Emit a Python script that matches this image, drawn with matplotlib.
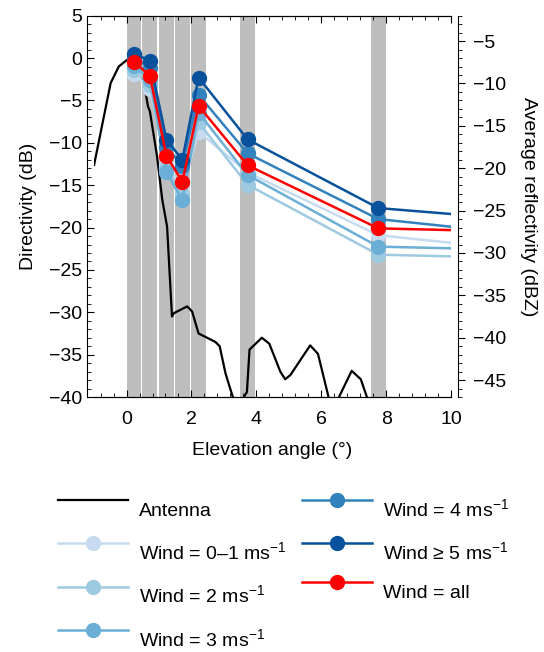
import matplotlib
matplotlib.use("Agg")
import matplotlib.pyplot as plt
from matplotlib.ticker import MultipleLocator

plt.rcParams['font.family'] = ['Liberation Sans', 'DejaVu Sans']
plt.rcParams['mathtext.fontset'] = 'custom'
plt.rcParams['mathtext.rm'] = 'Liberation Sans'
plt.rcParams['mathtext.it'] = 'Liberation Sans:italic'
plt.rcParams['font.size'] = 14

# Antenna directivity pattern (dB)
ant_x = [-1.0, -0.49, -0.24, 0.02, 0.2, 0.41, 0.53, 0.58, 0.66, 0.72, 0.94,
         1.1, 1.25, 1.4, 1.46, 1.87, 2.02, 2.22, 2.43, 2.74, 2.87, 3.05, 3.3,
         3.42, 3.57, 3.71, 3.79, 4.17, 4.4, 4.74, 4.89, 5.05, 5.66, 5.9, 6.22,
         6.37, 6.56, 6.94, 7.22, 7.4, 7.57, 8.0, 9.0, 10.0]
ant_db = [-12.6, -2.95, -1.0, -0.2, 0.0, -2.35, -2.8, -3.9, -5.7, -6.3, -11.6,
          -16.7, -19.9, -30.5, -30.1, -29.3, -29.9, -32.5, -32.9, -33.5, -34.0,
          -37.2, -40.3, -42.0, -40.3, -39.4, -34.4, -33.0, -33.7, -37.0, -37.9,
          -37.4, -33.9, -34.9, -39.9, -41.5, -39.9, -36.9, -37.9, -39.9, -42.7,
          -45.0, -46.0, -47.0]

# Elevation angles of the scans (last value = extension to 10 deg)
elev = [0.23, 0.72, 1.23, 1.72, 2.22, 3.73, 7.76, 10.0]

# Average reflectivity (dBZ) per wind class
refl_w01 = [-8.85, -10.6, -19.6, -22.3, -15.7, -20.5, -27.9, -28.8]
refl_w2 = [-8.4, -10.15, -19.95, -23.1, -14.6, -21.95, -30.2, -30.4]
refl_w3 = [-7.9, -9.55, -20.4, -23.8, -13.45, -20.8, -29.25, -29.45]
refl_w4 = [-6.95, -8.15, -17.5, -19.7, -11.35, -18.25, -26.0, -26.9]
refl_w5 = [-6.5, -7.3, -16.65, -19.0, -9.3, -16.6, -24.7, -25.4]
refl_all = [-7.45, -9.1, -18.55, -21.6, -12.65, -19.65, -27.1, -27.3]

band_centres = [0.23, 0.72, 1.23, 1.72, 2.22, 3.73, 7.76]

fig = plt.figure(figsize=(5.44, 6.52), dpi=100)
ax = fig.add_axes([0.173, 0.391, 0.656, 0.585])

for c in band_centres:
    ax.axvspan(c - 0.23, c + 0.23, color='#bebebe', lw=0, zorder=0)

ax.plot(ant_x, ant_db, color='black', lw=1.6, zorder=2, label='Antenna')
ax.set_xlim(-1, 10)
ax.set_ylim(-40, 5)
ax.xaxis.set_major_locator(MultipleLocator(2))
ax.xaxis.set_minor_locator(MultipleLocator(0.4))
ax.yaxis.set_major_locator(MultipleLocator(5))
ax.yaxis.set_minor_locator(MultipleLocator(1))
ax.tick_params(axis='x', which='both', direction='in', top=True, pad=10)
ax.tick_params(axis='y', which='both', direction='in', right=False)
ax.tick_params(which='major', length=5)
ax.tick_params(which='minor', length=3)
ax.spines['left'].set_position(('outward', 5))
ax.spines['right'].set_visible(False)
ax.set_xlabel('Elevation angle (°)', labelpad=10)
ax.set_ylabel('Directivity (dB)', labelpad=9)

ax2 = ax.twinx()
ax2.set_ylim(-47, -2)
ax2.yaxis.set_major_locator(MultipleLocator(5))
ax2.yaxis.set_minor_locator(MultipleLocator(1))
ax2.tick_params(axis='y', which='both', direction='out', pad=6)
ax2.tick_params(which='major', length=5)
ax2.tick_params(which='minor', length=3)
ax2.spines['right'].set_position(('outward', 5))
ax2.spines['left'].set_visible(False)
ax2.set_ylabel('Average reflectivity (dBZ)', rotation=270, labelpad=22)

series = [
    (refl_w01, '#c6dbef', 'Wind = 0–1 ms$^{-1}$'),
    (refl_w2, '#9ecae1', 'Wind = 2 ms$^{-1}$'),
    (refl_w3, '#6baed6', 'Wind = 3 ms$^{-1}$'),
    (refl_w4, '#3182bd', 'Wind = 4 ms$^{-1}$'),
    (refl_w5, '#08519c', 'Wind ≥ 5 ms$^{-1}$'),
    (refl_all, '#ff0000', 'Wind = all'),
]
handles = [ax.get_lines()[0]]
for vals, col, lab in series:
    h, = ax2.plot(elev, vals, color=col, lw=1.8, marker='o', ms=10,
                  markevery=slice(0, 7), label=lab)
    handles.append(h)

leg = fig.legend(handles=handles, loc='upper left', bbox_to_anchor=(0.075, 0.277),
                 ncol=2, frameon=False, handlelength=3.6, labelspacing=1.1,
                 columnspacing=0.8, handletextpad=0.55)
# text sits a little below its line sample, as in the original
for t in leg.get_texts():
    t.set_position((0, -9))

fig.savefig('out.png', dpi=100)
